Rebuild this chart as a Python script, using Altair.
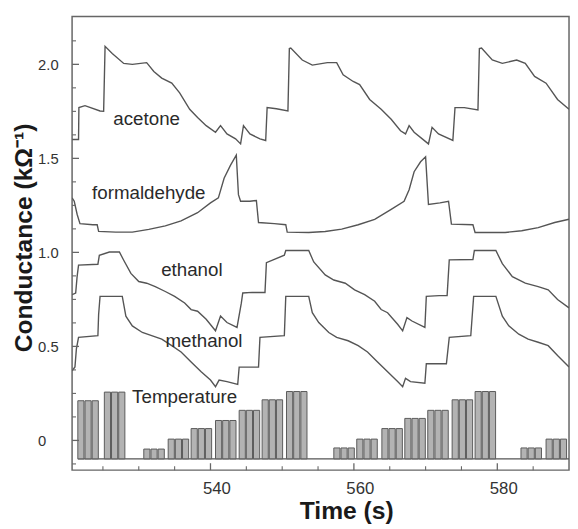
import altair as alt
import pandas as pd

# ---------------- data ----------------
acetone_t = [520.7, 521.6, 521.65, 522.5, 524.6, 525.1, 525.3, 526.3, 527.9, 529.1,
             531.1, 532.1, 533.2, 534.6, 535.7, 537.1, 538.2, 539.4, 540.7, 541.4,
             542.3, 543.5, 544.2, 544.6, 545.5, 546.9, 547.7, 547.9, 549.2, 550.8,
             551.0, 551.2, 552.8, 554.2, 556.3, 557.6, 558.5, 559.9, 560.8, 562.2,
             563.8, 565.2, 566.5, 567.2, 567.7, 568.4, 570.4, 570.9, 571.8, 573.8,
             574.1, 575.4, 577.3, 577.5, 577.8, 579.3, 580.7, 582.7, 583.9, 585.2,
             586.8, 588.4, 590.0]
acetone_v = [1.60, 1.60, 1.77, 1.78, 1.752, 1.75, 2.096, 2.058, 2.005, 2.0,
             2.009, 1.962, 1.927, 1.90, 1.848, 1.761, 1.717, 1.674, 1.639, 1.674,
             1.63, 1.604, 1.577, 1.674, 1.63, 1.604, 1.595, 1.77, 1.764, 1.752,
             2.084, 2.087, 2.023, 1.996, 2.009, 2.009, 1.944, 1.909, 1.892, 1.813,
             1.761, 1.708, 1.647, 1.63, 1.674, 1.639, 1.577, 1.665, 1.63, 1.595,
             1.77, 1.77, 1.757, 2.084, 2.087, 2.023, 2.005, 2.023, 2.005, 1.936,
             1.90, 1.813, 1.761]

formaldehyde_t = [520.7, 521.0, 521.4, 521.8, 523.6, 524.2, 524.4, 526.8, 529.1, 531.4,
                  533.7, 535.9, 538.2, 540.0, 541.1, 541.9, 542.8, 543.6, 543.9, 544.2,
                  545.5, 546.4, 546.7, 548.9, 550.5, 550.7, 553.7, 556.0, 558.3, 560.6,
                  562.9, 565.2, 567.0, 567.7, 568.4, 569.3, 570.0, 570.4, 572.0, 573.2,
                  573.6, 576.6, 576.9, 581.1, 583.4, 585.7, 588.0, 590.0]
formaldehyde_v = [1.29, 1.272, 1.203, 1.153, 1.147, 1.147, 1.112, 1.108, 1.108, 1.122,
                  1.141, 1.168, 1.211, 1.263, 1.29, 1.394, 1.464, 1.517, 1.307, 1.272,
                  1.272, 1.276, 1.159, 1.153, 1.147, 1.108, 1.106, 1.111, 1.124, 1.147,
                  1.176, 1.229, 1.272, 1.333, 1.429, 1.482, 1.508, 1.255, 1.263, 1.272,
                  1.15, 1.147, 1.106, 1.106, 1.115, 1.132, 1.159, 1.176]

ethanol_t = [520.7, 521.2, 521.4, 521.6, 524.3, 524.5, 525.9, 527.3, 527.9, 528.9,
             530.0, 531.1, 532.3, 533.7, 535.0, 536.4, 537.3, 538.2, 539.4, 540.7,
             541.4, 542.3, 543.7, 544.3, 544.5, 545.8, 547.6, 547.8, 550.3, 550.5,
             553.7, 554.4, 556.0, 557.2, 558.8, 560.1, 561.5, 562.9, 563.8, 564.7,
             566.1, 566.8, 567.4, 568.1, 569.9, 570.1, 571.9, 573.0, 573.3, 576.6,
             576.8, 579.8, 580.7, 582.1, 583.9, 585.7, 587.1, 588.4, 590.0]
ethanol_v = [0.775, 0.784, 0.871, 0.932, 0.937, 0.984, 1.002, 1.002, 0.958, 0.888,
             0.845, 0.836, 0.818, 0.792, 0.766, 0.731, 0.696, 0.687, 0.644, 0.583,
             0.661, 0.627, 0.601, 0.73, 0.784, 0.787, 0.787, 0.945, 0.985, 1.01,
             1.01, 0.949, 0.88, 0.853, 0.836, 0.801, 0.775, 0.74, 0.696, 0.679,
             0.618, 0.583, 0.653, 0.635, 0.601, 0.766, 0.77, 0.77, 0.96, 0.962,
             1.01, 1.01, 0.94, 0.871, 0.836, 0.818, 0.801, 0.749, 0.705]

methanol_t = [520.7, 521.1, 521.3, 521.6, 524.3, 524.4, 524.6, 527.7, 528.2, 529.1,
              530.5, 531.8, 533.2, 534.6, 535.9, 537.3, 538.7, 540.0, 540.7, 541.2,
              542.3, 543.8, 544.0, 546.7, 546.9, 550.3, 550.5, 553.7, 554.2, 555.1,
              556.5, 557.6, 559.2, 560.6, 561.9, 563.3, 564.7, 566.1, 566.8, 567.2,
              567.9, 569.9, 570.1, 572.9, 573.3, 576.3, 576.7, 579.8, 580.7, 581.6,
              583.0, 584.3, 585.7, 587.1, 588.4, 590.0]
methanol_v = [0.37, 0.391, 0.487, 0.548, 0.557, 0.67, 0.766, 0.766, 0.661, 0.609,
              0.574, 0.557, 0.539, 0.504, 0.47, 0.417, 0.365, 0.321, 0.286, 0.321,
              0.313, 0.298, 0.39, 0.39, 0.548, 0.557, 0.766, 0.766, 0.679, 0.627,
              0.574, 0.548, 0.53, 0.504, 0.47, 0.417, 0.365, 0.313, 0.286, 0.33,
              0.313, 0.304, 0.408, 0.408, 0.548, 0.557, 0.766, 0.766, 0.661, 0.609,
              0.565, 0.539, 0.522, 0.504, 0.452, 0.391]

# temperature pulse groups: start time of each step and its (rescaled) level
temp_start = [521.5, 525.2, 530.7, 534.1, 537.3, 540.7, 544.0, 547.2, 550.6,
              557.2, 560.4, 563.9, 567.1, 570.3, 573.7, 576.9, 583.3, 586.8]
temp_level = [0.211, 0.257, -0.046, 0.007, 0.063, 0.106, 0.16, 0.216, 0.26,
              -0.04, 0.007, 0.063, 0.117, 0.16, 0.216, 0.26, -0.04, 0.007]
temp_base = -0.098
pulses_per_step = 3
pulse_len = 1.0      # s, one pulse slot
pulse_fill = 0.86    # fraction of the slot that the bar fills

labels = ["acetone", "formaldehyde", "ethanol", "methanol", "Temperature"]
label_t = [531.1, 531.4, 537.4, 539.1, 536.4]
label_v = [1.678, 1.285, 0.877, 0.498, 0.201]

x_domain = [520.7, 590.0]
y_domain = [-0.158, 2.254]
x_major = [540, 560, 580]
x_minor = [525, 530, 535, 545, 550, 555, 565, 570, 575, 585]
y_major = [0, 0.5, 1.0, 1.5, 2.0]
y_minor = [-0.125, 0.125, 0.25, 0.375, 0.625, 0.75, 0.875, 1.125, 1.25, 1.375,
           1.625, 1.75, 1.875, 2.125]

# ---------------- tables ----------------
rows = []
for name, ts, vs in [("acetone", acetone_t, acetone_v),
                     ("formaldehyde", formaldehyde_t, formaldehyde_v),
                     ("ethanol", ethanol_t, ethanol_v),
                     ("methanol", methanol_t, methanol_v)]:
    for i, (t, v) in enumerate(zip(ts, vs)):
        rows.append({"series": name, "i": i, "t": t, "v": v})
curves = pd.DataFrame(rows)

bars = []
for s, lv in zip(temp_start, temp_level):
    for k in range(pulses_per_step):
        t0 = s + k * pulse_len
        bars.append({"t": t0, "t1": t0 + pulse_len * pulse_fill, "v": lv, "b": temp_base})
bars = pd.DataFrame(bars)

lab = pd.DataFrame({"label": labels, "t": label_t, "v": label_v})

xs = alt.Scale(domain=x_domain, nice=False, zero=False)
ys = alt.Scale(domain=y_domain, nice=False, zero=False)

FONT = "Liberation Sans"
LINE = "#555555"
TICK = "#666666"

x_axis = alt.Axis(values=x_major, tickSize=0, domain=False, grid=False,
                  labelFontSize=17, labelFont=FONT, labelColor="#333333",
                  labelPadding=11, labelOffset=6, labelFlush=False,
                  title="Time (s)", titleFont=FONT, titleFontSize=25,
                  titleFontWeight="bold", titleColor="#1a1a1a",
                  titleX=278, titleY=49, titleBaseline="alphabetic",
                  titleAnchor="middle")
y_axis = alt.Axis(values=y_major, tickSize=0, domain=False, grid=False,
                  labelExpr="datum.value == 0 ? '0' : format(datum.value, '.1f')",
                  labelAlign="left", labelPadding=35, labelFontSize=15,
                  labelFont=FONT, labelColor="#333333",
                  title="Conductance (kΩ⁻¹)", titleFont=FONT, titleFontSize=25,
                  titleFontWeight="bold", titleColor="#1a1a1a",
                  titleX=-41, titleY=224, titleAngle=270,
                  titleBaseline="alphabetic", titleAnchor="middle")

X = alt.X("t:Q", scale=xs, axis=x_axis)
Y = alt.Y("v:Q", scale=ys, axis=y_axis)

lines = alt.Chart(curves).mark_line(color=LINE, strokeWidth=1.4, clip=True).encode(
    x=X, y=Y, detail="series:N", order="i:Q",
)

baseline = alt.Chart(pd.DataFrame({"t": [temp_start[0]], "t1": [x_domain[1]],
                                   "v": [temp_base]})).mark_rule(
    color=LINE, strokeWidth=1.3).encode(x=X, x2="t1:Q", y=Y)

temp = alt.Chart(bars).mark_bar(fill="#b3b3b3", stroke="#5a5a5a",
                                strokeWidth=1, clip=True).encode(
    x=X, x2="t1:Q", y=Y, y2="b:Q")

texts = alt.Chart(lab).mark_text(font=FONT, fontSize=19, color="#2a2a2a",
                                 align="center", baseline="alphabetic").encode(
    x=X, y=Y, text="label:N")

ytick_major = alt.Chart(pd.DataFrame({"v": y_major})).mark_rule(
    color=TICK, strokeWidth=1.3).encode(y=Y, x=alt.value(0), x2=alt.value(7))
ytick_minor = alt.Chart(pd.DataFrame({"v": y_minor})).mark_rule(
    color=TICK, strokeWidth=1.1).encode(y=Y, x=alt.value(0), x2=alt.value(4))
xtick_major = alt.Chart(pd.DataFrame({"t": x_major})).mark_rule(
    color=TICK, strokeWidth=1.3).encode(x=X, y=alt.value(460), y2=alt.value(453))
xtick_minor = alt.Chart(pd.DataFrame({"t": x_minor})).mark_rule(
    color=TICK, strokeWidth=1.1).encode(x=X, y=alt.value(460), y2=alt.value(456))

chart = alt.layer(
    lines, baseline, temp, texts,
    ytick_major, ytick_minor, xtick_major, xtick_minor,
).properties(
    width=504, height=460,
    autosize=alt.AutoSizeParams(type="none"),
    padding={"left": 65, "top": 5, "right": 1, "bottom": 56},
    background="white",
).configure_view(
    stroke="#666666", strokeWidth=1.5,
)

chart.save("out.html", embed_options={"renderer": "svg", "actions": False})
